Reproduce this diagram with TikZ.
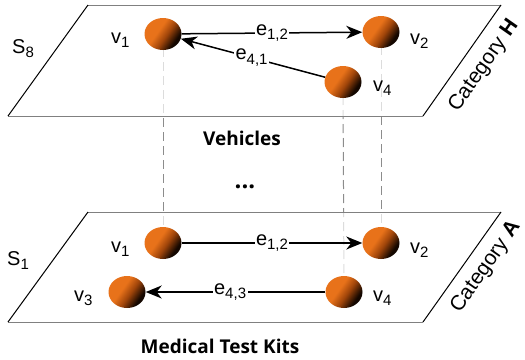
\documentclass[tikz,border=0pt]{standalone}
\usepackage{fontspec}
\setmainfont{Liberation Sans}
\newfontfamily\boldsans{Open Sans}
\usetikzlibrary{arrows.meta,shapes.geometric}
\definecolor{orbA}{HTML}{E8721A}
\definecolor{orbB}{HTML}{A0450A}
\definecolor{orbC}{HTML}{140700}
\pgfdeclarehorizontalshading{orb}{100bp}{color(0bp)=(orbA); color(42bp)=(orbA); color(55bp)=(orbB); color(70bp)=(orbC); color(100bp)=(orbC)}
\newcommand\sbs[1]{\raisebox{-0.45ex}{\fontsize{15}{15}\selectfont #1}}
\tikzset{
  ball/.style={ellipse, minimum width=37pt, minimum height=32pt, inner sep=0pt, shading=orb, shading angle=-35},
  lbl/.style={anchor=base west, inner sep=0pt, font=\fontsize{20}{20}\selectfont},
  elbl/.style={fill=white, inner sep=1.5pt, font=\fontsize{20}{20}\selectfont},
  edge/.style={line width=1.5pt, -{Stealth[length=16pt,width=13pt,inset=5pt]}},
  vdash/.style={gray!90, line width=1pt, dash pattern=on 9pt off 5pt},
  plane/.style={fill=white, fill opacity=0.7},
  hedge/.style={gray, line width=1pt},
  sedge/.style={black, line width=1pt},
  title/.style={font=\boldsans\bfseries\fontsize{19}{19}\selectfont, anchor=base, inner sep=0pt},
  cat/.style={font=\fontsize{21}{21}\selectfont, rotate=55, inner sep=0pt}
}
\begin{document}
\begin{tikzpicture}[x=1pt,y=-1pt]
\useasboundingbox (0,0) rectangle (525,359);
% ball positions
\coordinate (tv1c) at (163,34);
\coordinate (tv2c) at (381,32);
\coordinate (tv4c) at (343,82);
\coordinate (bv1c) at (163,243);
\coordinate (bv2c) at (381,243);
\coordinate (bv4c) at (344,292);
\coordinate (bv3c) at (127,292);
% vertical dashed links
\draw[vdash] (tv1c) -- (bv1c);
\draw[vdash] (tv4c) -- (bv4c);
\draw[vdash] (tv2c) -- (bv2c);
% planes
\coordinate (tA) at (88,5); \coordinate (tB) at (501,5);
\coordinate (tC) at (423,116); \coordinate (tD) at (8,116);
\coordinate (bA) at (88,212); \coordinate (bB) at (501,212);
\coordinate (bC) at (423,322); \coordinate (bD) at (8,322);
\fill[plane] (tA) -- (tB) -- (tC) -- (tD) -- cycle;
\fill[plane] (bA) -- (bB) -- (bC) -- (bD) -- cycle;
\draw[hedge] (tA) -- (tB) (tC) -- (tD);
\draw[sedge] (tB) -- (tC) (tD) -- (tA);
\draw[hedge] (bA) -- (bB) (bC) -- (bD);
\draw[sedge] (bB) -- (bC) (bD) -- (bA);
% balls
\node[ball] (tv1) at (tv1c) {};
\node[ball] (tv2) at (tv2c) {};
\node[ball] (tv4) at (tv4c) {};
\node[ball] (bv1) at (bv1c) {};
\node[ball] (bv2) at (bv2c) {};
\node[ball] (bv4) at (bv4c) {};
\node[ball] (bv3) at (bv3c) {};
% edges
\draw[edge] (tv1) -- node[elbl, pos=0.5] (le12t) {e\sbs{1,2}} (tv2);
\draw[edge] (tv4) -- node[elbl, pos=0.51] (le41) {e\sbs{4,1}} (tv1);
\draw[edge] (bv1) -- node[elbl, pos=0.5] (le12b) {e\sbs{1,2}} (bv2);
\draw[edge] (bv4) -- node[elbl, pos=0.53] (le43) {e\sbs{4,3}} (bv3);
% vertex labels
\node[lbl] (ltv1) at (111,43) {v\sbs{1}};
\node[lbl] (ltv2) at (410,44) {v\sbs{2}};
\node[lbl] (ltv4) at (373,91) {v\sbs{4}};
\node[lbl] (lbv1) at (111,252) {v\sbs{1}};
\node[lbl] (lbv2) at (410,253) {v\sbs{2}};
\node[lbl] (lbv4) at (373,301) {v\sbs{4}};
\node[lbl] (lbv3) at (74,301) {v\sbs{3}};
\node[lbl] (s8) at (12,53) {S\sbs{8}};
\node[lbl] (s1) at (7,265) {S\sbs{1}};
% titles
\node[title] (veh) at (242,145) {Vehicles};
\node[title, font=\boldsans\bfseries\fontsize{24}{24}\selectfont] (dots) at (245,188) {...};
\node[title] (med) at (220,353) {Medical Test Kits};
\node[cat] (catH) at (484,66) {Category \textbf{H}};
\node[cat] (catA) at (486,267) {Category \textbf{A}};
\end{tikzpicture}
\end{document}
